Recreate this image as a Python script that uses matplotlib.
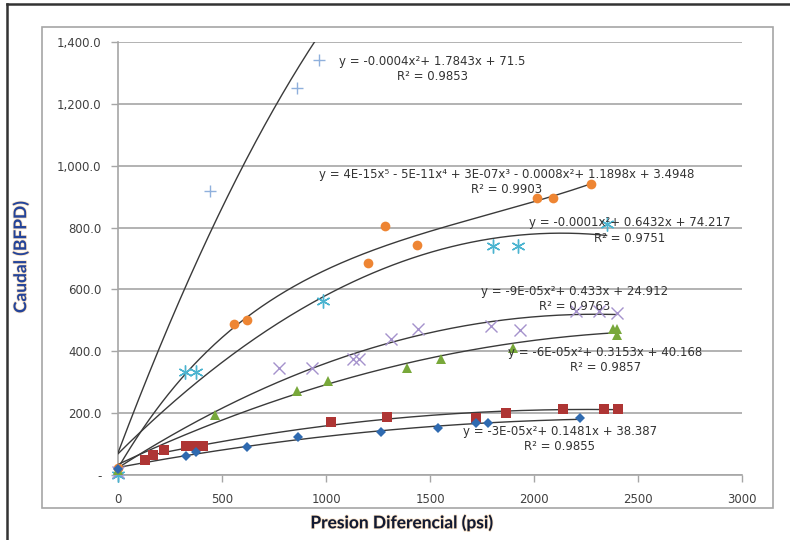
import matplotlib
matplotlib.use("Agg")
import matplotlib.pyplot as plt
import matplotlib.patheffects as pe
from matplotlib.patches import Rectangle
from matplotlib.lines import Line2D
import numpy as np

# series (psi, BFPD)
plus_x = [0, 440, 860, 967]
plus_y = [0, 919, 1252, 1342]
plus_coef = [-0.0004, 1.7843, 71.5]  # trendline printed on the chart

circle_x = [0, 559, 620, 1204, 1284, 1439, 2013, 2093, 2274]
circle_y = [22, 487, 501, 684, 806, 745, 897, 894, 942]

star_x = [0, 322, 373, 984, 1804, 1925, 2349]
star_y = [0, 334, 334, 561, 741, 741, 812]

cross_x = [0, 776, 933, 1131, 1161, 1312, 1444, 1792, 1933, 2202, 2314, 2397]
cross_y = [10, 347, 347, 374, 374, 439, 471, 482, 469, 531, 531, 525]

tri_x = [0, 466, 859, 1011, 1388, 1553, 1897, 2378, 2397, 2401]
tri_y = [15, 194, 273, 304, 345, 374, 412, 471, 471, 453]

square_x = [131, 170, 220, 327, 370, 410, 1026, 1293, 1721, 1865, 2138, 2337, 2405]
square_y = [47, 64, 80, 94, 94, 94, 171, 187, 185, 199, 215, 215, 215]

diamond_x = [0, 327, 373, 620, 864, 1264, 1540, 1721, 1777, 2221]
diamond_y = [20, 61, 75, 90, 123, 139, 151, 167, 169, 183]

yticks = [0, 200, 400, 600, 800, 1000, 1200, 1400]
ytick_labels = ["-", "200.0", "400.0", "600.0", "800.0", "1,000.0", "1,200.0", "1,400.0"]
xticks = [0, 500, 1000, 1500, 2000, 2500, 3000]

eq_labels = [
    ("y = -0.0004x\u00b2+ 1.7843x + 71.5", "R\u00b2 = 0.9853"),
    ("y = 4E-15x\u2075 - 5E-11x\u2074 + 3E-07x\u00b3 - 0.0008x\u00b2+ 1.1898x + 3.4948", "R\u00b2 = 0.9903"),
    ("y = -0.0001x\u00b2+ 0.6432x + 74.217", "R\u00b2 = 0.9751"),
    ("y = -9E-05x\u00b2+ 0.433x + 24.912", "R\u00b2 = 0.9763"),
    ("y = -6E-05x\u00b2+ 0.3153x + 40.168", "R\u00b2 = 0.9857"),
    ("y = -3E-05x\u00b2+ 0.1481x + 38.387", "R\u00b2 = 0.9855"),
]
eq_pos = [(1510, 1337, 1288), (1868, 971, 922), (2459, 818, 766),
          (2194, 592, 544), (2342, 395, 346), (2125, 142, 91)]

series = [
    (plus_x, plus_y, plus_coef, dict(marker="+", color="#8FB0DC", ms=9, mew=1.0)),
    (circle_x, circle_y, 5, dict(marker="o", color="#EE8533", ms=7, mew=0)),
    (star_x, star_y, 2, dict(marker=(6, 2, 0), color="#4BB4D0", ms=10, mew=1.0)),
    (cross_x, cross_y, 2, dict(marker="x", color="#A592CC", ms=8, mew=1.0)),
    (tri_x, tri_y, 2, dict(marker="^", color="#78A83A", ms=7.5, mew=0)),
    (square_x, square_y, 2, dict(marker="s", color="#AE3534", ms=7.5, mew=0)),
    (diamond_x, diamond_y, 2, dict(marker="D", color="#2F6AB0", ms=5, mew=0)),
]

fig = plt.figure(figsize=(7.9, 5.4), dpi=100)
ax = fig.add_axes([118 / 790, 1 - 475 / 540, 624 / 790, 433 / 540])

# frames around the chart
fig.patches.append(Rectangle((42 / 790, 1 - 508 / 540), 731 / 790, 481 / 540,
                             transform=fig.transFigure, fill=False,
                             edgecolor="#A6A6A6", lw=1.2))
fig.lines.append(Line2D([7 / 790, 7 / 790], [0, 1 - 4 / 540], transform=fig.transFigure,
                        color="#333333", lw=1.8))
fig.lines.append(Line2D([7 / 790, 1], [1 - 4 / 540, 1 - 4 / 540], transform=fig.transFigure,
                        color="#333333", lw=1.8))

for xs, ys, trend, style in series:
    xs = np.array(xs, float)
    ys = np.array(ys, float)
    xx = np.linspace(xs.min(), xs.max(), 300)
    if isinstance(trend, list):
        yy = np.polyval(trend, xx)
    else:
        yy = np.polynomial.Polynomial.fit(xs, ys, trend)(xx)
    ax.plot(xx, yy, color="#3A3A3A", lw=1.0, zorder=3)
    ax.plot(xs, ys, ls="none", zorder=4, clip_on=False, **style)

for (eq, r2), (px, ey, ry) in zip(eq_labels, eq_pos):
    ax.text(px, ey, eq, ha="center", va="center", fontsize=8.5, color="#333333", zorder=5)
    ax.text(px, ry, r2, ha="center", va="center", fontsize=8.5, color="#333333", zorder=5)

ax.set_xlim(0, 3000)
ax.set_ylim(0, 1400)
ax.set_yticks(yticks)
ax.set_yticklabels(ytick_labels)
ax.set_xticks(xticks)
ax.grid(axis="y", color="#A6A6A6", lw=1.2)
ax.set_axisbelow(True)
for s in ["top", "right"]:
    ax.spines[s].set_visible(False)
for s in ["left", "bottom"]:
    ax.spines[s].set_color("#A6A6A6")
    ax.spines[s].set_linewidth(1.2)
ax.tick_params(axis="both", colors="#A6A6A6", labelcolor="#404040", labelsize=8.5,
               length=5, width=1.0)
ax.tick_params(axis="y", pad=7)
ax.tick_params(axis="x", pad=8)

halo = [pe.withStroke(linewidth=1.2, foreground="#F2B060", alpha=0.35)]
fig.text(402 / 790, 1 - 523 / 540, "Presion Diferencial (psi)", ha="center", va="center",
         fontsize=12.5, fontweight="bold", family="Lato", color="#111a33", path_effects=halo)
fig.text(21 / 790, 1 - 257 / 540, "Caudal (BFPD)", ha="center", va="center", rotation=90,
         fontsize=12.5, fontweight="bold", family="Lato", color="#24449A", path_effects=halo)

fig.savefig("out.png", dpi=100)
